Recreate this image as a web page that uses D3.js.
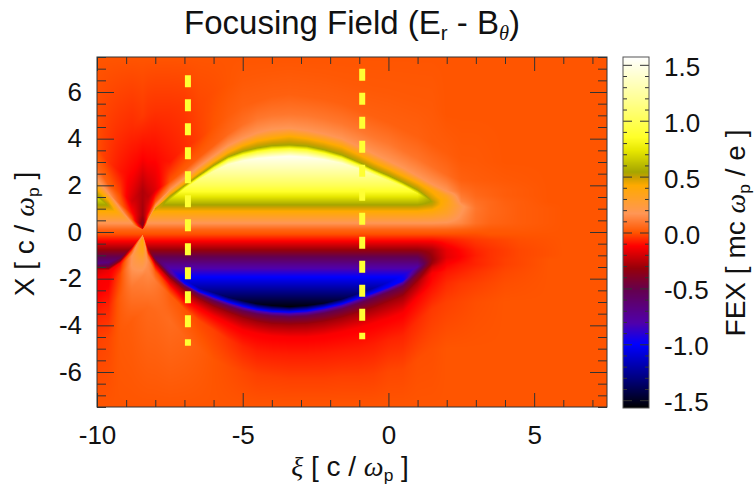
<!DOCTYPE html>
<html><head><meta charset="utf-8">
<script src="https://cdn.jsdelivr.net/npm/d3@7/dist/d3.min.js"></script>
<style>
html,body{margin:0;padding:0;background:#fff}
svg{display:block}
text{font-family:"Liberation Sans",Arial,sans-serif;fill:#111}
.greek{font-family:"Liberation Serif",serif;font-style:italic}
.domain{display:none}
</style></head><body><div id="chart"></div>
<script>
// ---- values (xi, X and field units) ----
const xiTicks=[-10,-5,0,5];
const xTicks=[-6,-4,-2,0,2,4,6];
const cbTicks=[-1.5,-1,-0.5,0,0.5,1,1.5];
const cutColumnsXi=[{x:-6.88,top:6.72,bottom:-4.88},{x:-0.9,top:7.0,bottom:-4.6}];

const colorStops=[-1.57,-1.32,-1,-0.81,-0.52,-0.32,-0.12,0,0.17,0.42,0.49,0.54,0.73,0.85,1.2,1.57];
const colorValues=["#000000","#000078","#0000ff","#5000aa","#640050","#96000a","#ff0000","#ff5500","#ff9655","#ffaa00","#cda000","#a5a500","#e6e600","#ffff28","#ffff96","#ffffff"];

// mesh columns along xi
const meshXi=[-10,-9.6,-9.2,-8.8,-8.43,-8.25,-8,-7.5,-7,-6.5,-6,-5.5,-5,-4.5,-4,-3.4,-2.8,-2.2,-1.6,-1,-0.5,0,0.5,1,1.5,2,2.5,3,4,5.5,7.5];
// above the bubble: inner edge, then contour nodes going outward
const upperX=[
[1.45,1.55,1.85,2.25,2.8,3.6,5.5],[1.1,1.2,1.4,1.65,2,3,5],[0.7,0.8,1,1.2,1.7,2.6,4.5],[0.32,0.38,0.55,0.8,1.3,2.5,4.5],
[0.1,0.15,0.3,0.7,1.8,3.2,5],[0.42,0.5,0.62,0.85,1.5,3,5],[0.85,1,1.12,1.3,1.8,3.2,5.2],[1.38,1.52,1.62,1.8,2.15,3,5.2],
[1.85,1.98,2.08,2.3,2.65,3.6,5.5],[2.25,2.42,2.55,2.8,3.2,4,5.5],[2.6,2.85,3,3.25,3.7,4.5,6],[2.9,3.22,3.4,3.7,4.2,5,6.3],
[3.05,3.45,3.7,4,4.6,5.4,6.5],[3.15,3.6,3.9,4.25,4.85,5.6,6.7],[3.2,3.7,4,4.4,5,5.8,6.8],[3.25,3.73,4.1,4.45,5.05,5.9,6.9],
[3.2,3.68,4,4.35,5,5.8,6.8],[3.1,3.52,3.85,4.2,4.85,5.7,6.7],[2.95,3.3,3.65,4,4.65,5.5,6.5],[2.7,2.98,3.3,3.65,4.35,5.2,6.3],
[2.45,2.68,2.98,3.35,4.05,4.95,6.1],[2.2,2.42,2.7,3.05,3.8,4.7,6],[1.95,2.12,2.4,2.75,3.5,4.4,5.8],[1.65,1.8,2.1,2.4,3.15,4.1,5.6],
[1.3,1.44,1.8,2.05,2.8,3.8,5.4],[1.2,1.35,1.55,1.75,2.45,3.4,5],[1.1,1.3,1.5,1.75,2.2,3.1,5],[1,1.3,1.55,1.8,2.2,3,5],
[1,1.3,1.55,1.8,2.2,3,5],[1,1.3,1.55,1.8,2.2,3,5],[1,1.3,1.55,1.8,2.2,3,5]];
const upperV=[
[0.54,0.42,0.17,0.04,-0.01,-0.01],[0.5,0.4,0.17,0.03,-0.05,-0.03],[0.33,0.17,0.03,-0.03,-0.09,-0.05],[0.17,0,-0.1,-0.2,-0.12,-0.06],
[-0.25,-0.4,-0.3,-0.27,-0.12,-0.04],[0.2,0,-0.15,-0.25,-0.12,-0.05],[0.5,0.17,0,-0.18,-0.11,-0.05],[0.54,0.42,0.17,0,-0.09,-0.05],
[0.54,0.42,0.17,0.02,-0.06,-0.04],[0.54,0.42,0.17,0.02,-0.03,-0.02],[0.54,0.42,0.17,0.03,0,-0.01],[0.54,0.42,0.17,0.05,0.02,0],
[0.54,0.42,0.17,0.07,0.03,0.01],[0.54,0.42,0.17,0.09,0.03,0.01],[0.54,0.42,0.17,0.09,0.03,0.01],[0.54,0.42,0.17,0.09,0.03,0.01],
[0.54,0.42,0.17,0.09,0.03,0.01],[0.54,0.42,0.17,0.09,0.03,0.01],[0.54,0.42,0.17,0.09,0.03,0.01],[0.54,0.42,0.17,0.09,0.03,0.01],
[0.54,0.42,0.17,0.09,0.03,0.01],[0.54,0.42,0.17,0.09,0.03,0.01],[0.54,0.42,0.17,0.08,0.03,0.01],[0.54,0.42,0.17,0.08,0.03,0.01],
[0.48,0.4,0.17,0.07,0.02,0.01],[0.38,0.32,0.17,0.06,0.02,0],[0.13,0.1,0.07,0.03,0.01,0],[0.07,0.05,0.04,0.02,0.01,0],
[0.03,0.02,0.02,0.01,0,0],[0,0,0,0,0,0],[0,0,0,0,0,0]];
// below the bubble: inner edge, then contour nodes going outward
const lowerX=[
[-1.35,-1.5,-1.65,-2,-2.6,-3.4,-4.6],[-1.3,-1.5,-1.65,-1.85,-2.3,-3.2,-4.6],[-1.1,-1.2,-1.32,-1.45,-1.8,-2.8,-4.4],[-0.65,-0.72,-0.82,-1,-1.4,-2.4,-3.8],
[-0.1,-0.15,-0.3,-0.7,-1.2,-1.9,-3.4],[-0.7,-0.8,-0.9,-1,-1.2,-1.7,-3.2],[-1,-1.12,-1.28,-1.45,-1.7,-2.1,-3.4],[-1.55,-1.72,-1.85,-2,-2.3,-2.7,-3.8],
[-2.05,-2.2,-2.32,-2.5,-2.9,-3.3,-4.5],[-2.4,-2.55,-2.68,-2.88,-3.25,-3.8,-5],[-2.6,-2.78,-2.95,-3.2,-3.6,-4.2,-5.5],[-2.8,-3,-3.18,-3.45,-3.9,-4.6,-5.8],
[-2.95,-3.18,-3.38,-3.68,-4.2,-4.9,-6],[-3.08,-3.32,-3.52,-3.85,-4.35,-5.1,-6.1],[-3.15,-3.4,-3.6,-3.95,-4.45,-5.2,-6.2],[-3.2,-3.43,-3.64,-3.98,-4.5,-5.25,-6.3],
[-3.15,-3.38,-3.6,-3.95,-4.5,-5.25,-6.3],[-3.05,-3.25,-3.48,-3.85,-4.42,-5.2,-6.3],[-2.88,-3.08,-3.3,-3.68,-4.28,-5.1,-6.2],[-2.62,-2.82,-3.05,-3.45,-4.1,-5,-6.2],
[-2.4,-2.6,-2.82,-3.25,-3.9,-4.8,-6.1],[-2.15,-2.36,-2.58,-3,-3.7,-4.65,-6],[-1.85,-2.08,-2.32,-2.75,-3.45,-4.45,-5.9],[-1.5,-1.65,-1.8,-2.15,-2.8,-3.8,-5.5],
[-1.2,-1.35,-1.5,-1.75,-2.3,-3.3,-5],[-1.1,-1.2,-1.4,-1.7,-2.2,-3,-5],[-1.05,-1.2,-1.4,-1.7,-2.2,-3,-5],[-1,-1.2,-1.4,-1.7,-2.2,-3,-5],
[-1,-1.2,-1.4,-1.7,-2.2,-3,-5],[-1,-1.2,-1.4,-1.7,-2.2,-3,-5],[-1,-1.2,-1.4,-1.7,-2.2,-3,-5]];
const lowerV=[
[-0.4,-0.2,-0.13,-0.13,-0.08,-0.03],[-0.45,-0.15,-0.13,-0.12,-0.07,-0.02],[-0.4,-0.12,-0.08,-0.02,0.02,0.01],[-0.12,0.03,0.17,0.18,0.09,0.02],
[0.2,0.42,0.38,0.25,0.12,0.04],[-0.2,-0.08,0.05,0.15,0.14,0.05],[-0.55,-0.3,-0.12,0.02,0.1,0.05],[-0.75,-0.5,-0.28,-0.1,0.02,0.06],
[-1,-0.52,-0.3,-0.13,0,0.04],[-1,-0.52,-0.3,-0.13,-0.02,0.02],[-1,-0.52,-0.3,-0.13,-0.03,0],[-1,-0.52,-0.3,-0.13,-0.05,-0.01],
[-1,-0.52,-0.3,-0.13,-0.07,-0.02],[-1,-0.52,-0.3,-0.13,-0.08,-0.03],[-1,-0.52,-0.3,-0.13,-0.08,-0.03],[-1,-0.52,-0.3,-0.13,-0.08,-0.03],
[-1,-0.52,-0.3,-0.13,-0.08,-0.03],[-1,-0.52,-0.3,-0.13,-0.08,-0.03],[-1,-0.52,-0.3,-0.13,-0.08,-0.03],[-1,-0.52,-0.3,-0.13,-0.08,-0.03],
[-1,-0.52,-0.3,-0.13,-0.08,-0.03],[-1,-0.52,-0.3,-0.13,-0.07,-0.02],[-1,-0.52,-0.3,-0.13,-0.07,-0.02],[-0.6,-0.45,-0.28,-0.12,-0.06,-0.01],
[-0.3,-0.22,-0.13,-0.1,-0.04,-0.01],[-0.15,-0.12,-0.09,-0.06,-0.03,0],[-0.11,-0.09,-0.07,-0.04,-0.02,0],[-0.07,-0.07,-0.05,-0.03,-0.01,0],
[-0.03,-0.03,-0.02,-0.01,0,0],[0,0,0,0,0,0],[0,0,0,0,0,0]];
// inside the bubble: field against X on a few columns
const bandXi=[-10,1,1.5,2,2.5,3,3.5,4.5,6,7.5];
const bandX=[-3.6,-3.2,-2.6,-1.93,-1.5,-1.07,-0.77,-0.34,-0.1,0.1,0.38,0.8,1.16,1.67,2,2.6,3.2,3.8];
const bandV=[
[-1.57,-1.55,-1.3,-1,-0.78,-0.52,-0.32,-0.1,-0.01,0.04,0.17,0.38,0.54,0.82,1,1.25,1.5,1.57],
[-1.57,-1.55,-1.3,-1,-0.78,-0.52,-0.32,-0.1,-0.01,0.04,0.17,0.38,0.54,0.82,1,1.25,1.5,1.57],
[-0.4,-0.4,-0.4,-0.38,-0.35,-0.32,-0.28,-0.1,-0.01,0.04,0.17,0.36,0.5,0.6,0.7,0.8,0.9,0.9],
[-0.1,-0.1,-0.12,-0.14,-0.15,-0.17,-0.16,-0.08,-0.01,0.04,0.16,0.3,0.36,0.36,0.36,0.36,0.36,0.36],
[-0.05,-0.05,-0.07,-0.09,-0.11,-0.12,-0.11,-0.06,-0.01,0.03,0.13,0.17,0.2,0.13,0.1,0.1,0.1,0.1],
[-0.03,-0.03,-0.05,-0.07,-0.07,-0.08,-0.07,-0.04,-0.01,0.02,0.07,0.08,0.09,0.07,0.05,0.05,0.05,0.05],
[-0.02,-0.02,-0.03,-0.04,-0.05,-0.05,-0.05,-0.03,0,0.01,0.04,0.05,0.05,0.04,0.03,0.03,0.03,0.03],
[-0.01,-0.01,-0.01,-0.02,-0.02,-0.02,-0.02,-0.01,0,0.01,0.02,0.02,0.02,0.02,0.01,0.01,0.01,0.01],
[0,0,0,0,0,0,0,0,0,0,0,0,0,0,0,0,0,0],
[0,0,0,0,0,0,0,0,0,0,0,0,0,0,0,0,0,0]];

// ---- layout ----
const W=755,H=486;
const plot={l:97,r:607,t:57,b:407};
const bar={l:623,r:649,t:57,b:408};
const x=d3.scaleLinear().domain([-10,7.5]).range([plot.l,plot.r]);
const y=d3.scaleLinear().domain([-7.5,7.5]).range([plot.b,plot.t]);
const cb=d3.scaleLinear().domain([-1.57,1.57]).range([bar.b,bar.t]);
const color=d3.scaleLinear().domain(colorStops).range(colorValues).interpolate(d3.interpolateRgb).clamp(true);

function lerp(a,b,t){return a+(b-a)*t}
function cell(arr,v){const i=Math.min(Math.max(d3.bisectRight(arr,v)-1,0),arr.length-2);return [i,(v-arr[i])/(arr[i+1]-arr[i])]}
function bandAt(xi,X){
  const [c,tc]=cell(bandXi,xi);
  const [r,tr]=cell(bandX,Math.max(bandX[0],Math.min(bandX[bandX.length-1],X)));
  return lerp(lerp(bandV[c][r],bandV[c][r+1],tr),lerp(bandV[c+1][r],bandV[c+1][r+1],tr),tc);
}
function columnProfile(xi){
  const [c,t]=cell(meshXi,xi);
  const uX=upperX[c].map((v,i)=>lerp(v,upperX[c+1][i],t)).concat([7.5]);
  const lX=lowerX[c].map((v,i)=>lerp(v,lowerX[c+1][i],t)).concat([-7.5]);
  const uV=[bandAt(xi,uX[0])].concat(upperV[c].map((v,i)=>lerp(v,upperV[c+1][i],t)),[0]);
  const lV=[bandAt(xi,lX[0])].concat(lowerV[c].map((v,i)=>lerp(v,lowerV[c+1][i],t)),[0]);
  return {uX,uV,lX:lX.map(v=>-v),lV};
}
function fieldAt(p,xi,X){
  if(X>=p.uX[0]){const [r,t]=cell(p.uX,X);return lerp(p.uV[r],p.uV[r+1],t)}
  if(X<=-p.lX[0]){const [r,t]=cell(p.lX,-X);return lerp(p.lV[r],p.lV[r+1],t)}
  return bandAt(xi,X);
}

// ---- raster layers built through the scales ----
function heatmapURL(){
  const w=plot.r-plot.l,h=plot.b-plot.t;
  const cv=document.createElement('canvas');cv.width=w;cv.height=h;
  const ctx=cv.getContext('2d');const img=ctx.createImageData(w,h);
  for(let i=0;i<w;i++){
    const xi=x.invert(plot.l+i+0.5);const p=columnProfile(xi);
    for(let j=0;j<h;j++){
      const c=d3.rgb(color(fieldAt(p,xi,y.invert(plot.t+j+0.5))));
      const k=(j*w+i)*4;img.data[k]=c.r;img.data[k+1]=c.g;img.data[k+2]=c.b;img.data[k+3]=255;
    }
  }
  ctx.putImageData(img,0,0);return cv.toDataURL();
}
function barURL(){
  const w=bar.r-bar.l,h=bar.b-bar.t;
  const cv=document.createElement('canvas');cv.width=w;cv.height=h;
  const ctx=cv.getContext('2d');
  for(let j=0;j<h;j++){ctx.fillStyle=color(cb.invert(bar.t+j+0.5));ctx.fillRect(0,j,w,1)}
  return cv.toDataURL();
}

const svg=d3.select('#chart').append('svg').attr('width',W).attr('height',H);
svg.append('image').attr('x',plot.l).attr('y',plot.t).attr('width',plot.r-plot.l).attr('height',plot.b-plot.t).attr('href',heatmapURL());
svg.append('image').attr('x',bar.l).attr('y',bar.t).attr('width',bar.r-bar.l).attr('height',bar.b-bar.t).attr('href',barURL());

// yellow dashed columns
svg.selectAll('line.cut').data(cutColumnsXi).join('line').attr('class','cut')
 .attr('x1',d=>x(d.x)).attr('x2',d=>x(d.x)).attr('y1',d=>y(d.top)).attr('y2',d=>y(d.bottom))
 .attr('stroke','#ffff33').attr('stroke-width',6).attr('stroke-dasharray','12 12');

const TICK='#333';
const tickFont=26;
function axisGroup(gen,tx,ty,major){
  const g=svg.append('g').attr('transform',`translate(${tx},${ty})`).call(gen);
  g.selectAll('line').attr('stroke',TICK).attr('stroke-width',1);
  g.selectAll('text').attr('font-size',tickFont).attr('font-family','"Liberation Sans",Arial,sans-serif').attr('fill','#111');
  return g;
}
const xMinor=d3.range(-9,8).filter(v=>v%5!==0);
const yMinor=d3.range(-7.5,7.6,0.5).filter(v=>v%2!==0);
const cbMinor=d3.range(-15,16).map(v=>v/10).filter(v=>Math.abs(v*2-Math.round(v*2))>1e-6);
const none=()=>'';

axisGroup(d3.axisBottom(x).tickValues(xiTicks).tickSizeInner(-14).tickSizeOuter(0).tickPadding(19).tickFormat(d=>d3.format('d')(d).replace('−','-')),0,plot.b);
axisGroup(d3.axisBottom(x).tickValues(xMinor).tickSizeInner(-7).tickSizeOuter(0).tickFormat(none),0,plot.b);
axisGroup(d3.axisTop(x).tickValues(xiTicks).tickSizeInner(-14).tickSizeOuter(0).tickFormat(none),0,plot.t);
axisGroup(d3.axisTop(x).tickValues(xMinor).tickSizeInner(-7).tickSizeOuter(0).tickFormat(none),0,plot.t);
axisGroup(d3.axisLeft(y).tickValues(xTicks).tickSizeInner(-17).tickSizeOuter(0).tickPadding(15).tickFormat(d=>d3.format('d')(d).replace('−','-')),plot.l,0);
axisGroup(d3.axisLeft(y).tickValues(yMinor).tickSizeInner(-9).tickSizeOuter(0).tickFormat(none),plot.l,0);
axisGroup(d3.axisRight(y).tickValues(xTicks).tickSizeInner(-17).tickSizeOuter(0).tickFormat(none),plot.r,0);
axisGroup(d3.axisRight(y).tickValues(yMinor).tickSizeInner(-9).tickSizeOuter(0).tickFormat(none),plot.r,0);

axisGroup(d3.axisLeft(cb).tickValues(cbTicks).tickSizeInner(-9).tickSizeOuter(0).tickFormat(none),bar.l,0);
axisGroup(d3.axisLeft(cb).tickValues(cbMinor).tickSizeInner(-4).tickSizeOuter(0).tickFormat(none),bar.l,0);
axisGroup(d3.axisRight(cb).tickValues(cbTicks).tickSizeInner(-9).tickSizeOuter(0).tickPadding(22).tickFormat(none),bar.r,0);
axisGroup(d3.axisRight(cb).tickValues(cbMinor).tickSizeInner(-4).tickSizeOuter(0).tickFormat(none),bar.r,0);
// colour-bar labels, right of the bar
svg.append('g').selectAll('text').data(cbTicks).join('text')
 .attr('x',d=>664).attr('y',d=>cb(d)+11).attr('text-anchor','start').attr('font-size',tickFont)
 .text(d=>d3.format('.1f')(d).replace('−','-'));

svg.append('rect').attr('x',plot.l).attr('y',plot.t).attr('width',plot.r-plot.l).attr('height',plot.b-plot.t).attr('fill','none').attr('stroke','#333');
svg.append('rect').attr('x',bar.l).attr('y',bar.t).attr('width',bar.r-bar.l).attr('height',bar.b-bar.t).attr('fill','none').attr('stroke','#555');

// title and axis titles
function rich(t,parts,size){
  const drop=size*0.17;
  parts.forEach(p=>{
    const s=t.append('tspan').text(p.t);
    if(p.greek) s.attr('class','greek').style('font-family','"Liberation Serif",serif').style('font-style','italic');
    if(p.sub){s.attr('font-size',size*0.62).attr('dy',drop)}
    if(p.up){s.attr('dy',-drop)}
  });
}
const title=svg.append('text').attr('x',352).attr('y',34).attr('text-anchor','middle').attr('font-size',33);
rich(title,[{t:'Focusing Field (E'},{t:'r',sub:1},{t:' - B',up:1},{t:'θ',sub:1,greek:1},{t:')',up:1}],33);

const xl=svg.append('text').attr('x',350).attr('y',476).attr('text-anchor','middle').attr('font-size',28);
rich(xl,[{t:'ξ',greek:1},{t:' [ c / '},{t:'ω',greek:1},{t:'p',sub:1},{t:' ]',up:1}],28);

const yl=svg.append('text').attr('transform','translate(34,234) rotate(-90)').attr('text-anchor','middle').attr('font-size',28);
rich(yl,[{t:'X [ c / '},{t:'ω',greek:1},{t:'p',sub:1},{t:' ]',up:1}],28);

const cl=svg.append('text').attr('transform','translate(745,233) rotate(-90)').attr('text-anchor','middle').attr('font-size',28);
rich(cl,[{t:'FEX [ mc '},{t:'ω',greek:1},{t:'p',sub:1},{t:' / e ]',up:1}],28);
</script></body></html>
